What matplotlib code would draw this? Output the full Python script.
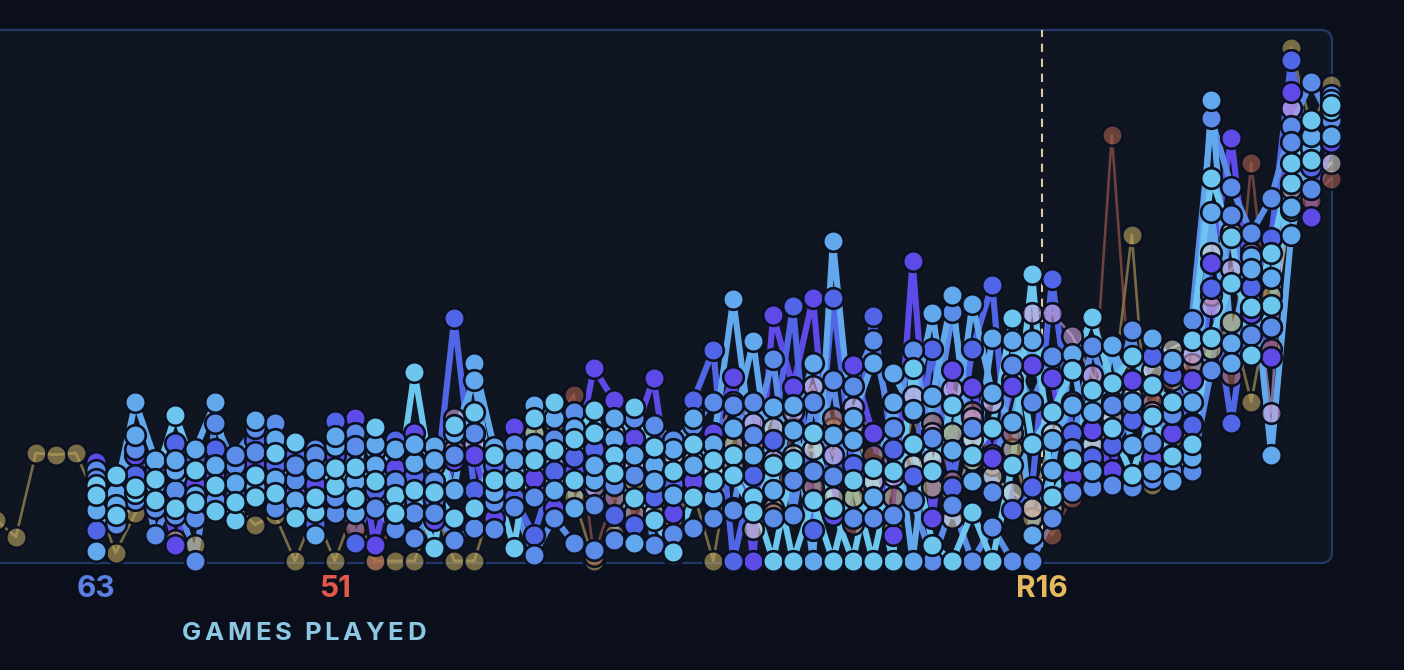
import numpy as np
import matplotlib
matplotlib.use("Agg")
import matplotlib.pyplot as plt
from matplotlib.patches import FancyBboxPatch
from matplotlib.transforms import IdentityTransform, blended_transform_factory

N = np.nan
games = list(range(68))

# eight blue-family series (games 5..67)
s1 = [N]*5 + [14.3,16.2,12.8,15.5,27.5, 17.1,9.4,7.7,16.2,20.3, 22.4,9.2,14.1,17.7,25.2,
              12.4,13.4,2.4,25.6,28.1, 15.3,2.4,26.9,29.9,15.3, 24.1,20,29,21.5,17,
              22,15,20,12,0, 19,24,10,0,17.5, 0,36.3,16.9,29.4,20, 25,45.8,22,28,36,
              46,33.5,38.6,33.1,30, 41.6,72.1,61.0,38.8,48.2, 71.2,83.1,84.9]
s2 = [N]*5 + [1.9,12.8,29.9,19,17.1, 12.4,18.1,14.7,26.6,15.5, 10,17.1,21.7,15,18,
              21,18.5,21.7,13.4,37.3, 21.5,17,29.4,13.4,25, 15.3,26.9,20,18,12.4,
              18.1,22,49.3,20,29, 24.7,37.3,23.7,27,37.3, 35.4,28.4,46.7,20.9,48.4,
              31.6,26.2,41.6,22.8,29.4, 28,41,30,42,37.9, 30,86.8,41.1,57.3,19.96,
              61.4,77.8,86.8]
s3 = [N]*5 + [17.1,8.5,21,4.9,13.4, 0,26,18,20.5,26, 15.3,21,9,24,20.9,
              15,9,15,20,24, 11,22,12,23,28, 10.5,14.3,16.2,25.6,22.8,
              25.6,30,29.4,23.7,38, 8.7,30,16,33,41.6, 25,39.7,23.2,46.9,25,
              13,36.9,30,38.6,21, 40.5,29.4,43.5,22.2,27.7, 45.4,83.4,70.4,61.8,68.4,
              81.9,90.2,83]
s4 = [N]*5 + [5.8,13,16.2,13,22.2, 19.5,21,12.4,22.8,18, 20,7,26.4,3.4,13.4,
              22.8,16,11.5,45.8,13.4, 18.1,12,4.9,17,19.6, 21,8.7,6.8,12,14.5,
              30.3,39.7,0,16.2,22.8, 48,5.8,49.5,18,46.1, 21,16,40,14,40,
              52,9.6,14,53.1,24.1, 19.6,21.8,26.6,38.6,35, 25.6,51.4,26,51.6,60.8,
              94.4,74.2,81.7]
s5 = [N]*5 + [18.6,15,20,17,3, 14.5,16,16,18,11, 13,14.5,20,26.9,3,
              17.5,24.1,7.7,19,20, 8.1,25.2,15.6,10,17, 36.3,30.3,23.2,34.5,9,
              15,24.1,34.7,0,46.3, 32.8,49.5,8.7,36.9,24.1, 4.9,56.5,8.1,36,32.8,
              19.4,33,36.9,34.5,16, 24.7,17.1,34.1,19.4,24, 34.1,56.1,79.7,46.7,38.4,
              88.3,64.8,78.9]
s6 = [N]*5 + [12.4,8.7,14,11.5,10, 11,14.3,11,12,12.8, 8,12,17.5,11.9,15,
              9,35.6,13,8,10, 20,15.3,19,20.9,23, 28.4,16.5,11.9,7.7,1.7,
              12.1,19,16.2,9.2,18.1, 0,11.5,0,15.3,0, 17,22,3,0,9.2,
              0,18,54,12,19, 32.2,25,16.2,27.3,19.8, 22,42,52.4,47.8,58,
              75,75.5,85.9]
s7 = [N]*5 + [9.5,10.5,23.7,14.3,19, 21,29.9,9,14,23, 11.5,4.9,23.5,9,22,
              11,22,19,24,34, 13,19,22,27,10, 18,23,3.4,15,21,
              27,11.9,25,41.4,13.4, 29.4,0,60.3,22.8,12, 30,0,31,50.1,15,
              42,41.6,4.9,17.1,39, 17,40.7,21.8,17,15, 19.6,65.7,37.3,55,53.3,
              66.7,80,80]
s8 = [N]*5 + [15.5,7,11.5,10,8.7, 8,11.5,20,25,10, 18,20,12,21.7,10,
              6,4.3,9,4,6.2, 6,10.2,1.1,8.1,3.4, 2.1,4,27,3,5,
              6.2,8,9.6,30,8, 15.3,17,34,8,8.1, 8.7,11.5,0,10.5,0,
              6.4,0,0,8,13, 14,14.3,14,15.5,17, 17,36,65.2,42.6,44,
              78.9,70,87.8]

# muted series
m_tan = [7.7,4.5,20.3,20,20.3, 12,1.5,9,13,4, 3,14.5,10.5,6.8,8.7, 0,9,0,10,0,
         0,0,10,0,0, 12,16,24,21,12, 0,5,15,18,8, 13,0,22,17,10,
         16,24,25,12,18, 6,28,14,24,19, 20,21,8,10,15, 13.7,30,61.4,14.3,20,
         26,40,45,30,50, 96.6,82,89.6]
m_brown = [N]*17 + [10,6,0, 8,14,18,21,24, 19,15,22,26,31.3, 1,12,9,19,1.1,
         26,24,18,22,9, 25,14,27,7,20, 12,22,26,15,28, 18,24,10,4.9,11.9,
         25,80.2,28,30,34, 37,50,35,75,40, 70,68,72]
m_mauve = [N]*20 + [14,19,10,27,22, 16,13,20,18,24, 14,18,21,13,17,
         28,22,30,26,19, 28,33,20,29,24, 16,31,24,32.3,27, 30,34,46.7,46.7,42.4,
         35,30,33,28,36, 39,48,55,58,27.9, 85.3,76,82]
m_gray = [N]*27 + [17,15,21, 20,24,18,9,20, 19,17,10,6,25, 20,21,12,25.5,15,
         30,18,19,8,23, 16,13,10,24,30, 22,27,31,36,40, 42,58,62,52,44,
         66,70,75]

tick_positions = [5, 17, 52.5]
tick_labels = ["63", "51", "R16"]
tick_colors = ["#5a80e2", "#e2584a", "#e6b95e"]
axis_title = "GAMES PLAYED"
dashed_at = 52.5

LC, SKY, CORN, ROYAL, PURP = "#6cc6ee", "#62a8ec", "#5a8ce8", "#5166e6", "#5e4ae6"
blue_series = [(s5, PURP), (s4, ROYAL), (s3, CORN), (s8, CORN), (s2, SKY), (s7, SKY), (s1, LC), (s6, LC)]
muted_series = [(m_tan, "#c0a860"), (m_brown, "#a8604e"), (m_mauve, "#d0a8e0"), (m_gray, "#dcd8cc")]

W, H = 1404, 670
fig = plt.figure(figsize=(W/100, H/100), dpi=100, facecolor="#0a0f1b")
plt.rcParams['font.family'] = ['Inter', 'DejaVu Sans']

bg = FancyBboxPatch((-30, 107), 1362, 533, boxstyle="round,pad=0,rounding_size=11",
                    transform=IdentityTransform(), fc="#0f1521", ec="#22396a", lw=1.6, zorder=-5)
fig.add_artist(bg)

ax = fig.add_axes([-4/W, 107/H, 1335/W, 533/H])
ax.set_xlim(0, 67)
ax.set_ylim(-0.4, 100)
ax.axis('off')

ax.axvline(dashed_at, ymin=0.03, ymax=1.0, color="#d9c9a8", lw=1.5, dashes=(4, 3.2), zorder=1.5)

edge = "#0b1120"
for vals, col in muted_series:
    ax.plot(games, np.array(vals, float), color=col, alpha=0.6, lw=1.9, zorder=2, clip_on=False,
            solid_capstyle='round', solid_joinstyle='round')
for vals, col in blue_series:
    ax.plot(games, np.array(vals, float), color=col, lw=4.4, zorder=2.2, clip_on=False,
            solid_joinstyle='round', solid_capstyle='round')
for vals, col in muted_series:
    rgba = matplotlib.colors.to_rgba(col, 0.6)
    ax.plot(games, np.array(vals, float), ls='none', marker='o', ms=14.8, mfc=rgba, mec=edge,
            mew=1.9, zorder=3, clip_on=False)
for vals, col in blue_series:
    ax.plot(games, np.array(vals, float), ls='none', marker='o', ms=14.8, mfc=col, mec=edge,
            mew=1.9, zorder=3.2, clip_on=False)

tr = blended_transform_factory(ax.transData, fig.transFigure)
for pos, lab, c in zip(tick_positions, tick_labels, tick_colors):
    ax.text(pos, (H-589)/H, lab, transform=tr, ha='center', va='center', color=c,
            fontsize=21.5, fontweight='bold', clip_on=False)

renderer = fig.canvas.get_renderer()
x = 182
fs = 18.5
for ch in axis_title:
    if ch == " ":
        x += 9
        continue
    t = fig.text(x/W, (H-633)/H, ch, ha='left', va='center', color="#8cc8e4",
                 fontsize=fs, fontweight='bold')
    bb = t.get_window_extent(renderer)
    x += bb.width + 3.6

fig.savefig("out.png", dpi=100, facecolor=fig.get_facecolor())
